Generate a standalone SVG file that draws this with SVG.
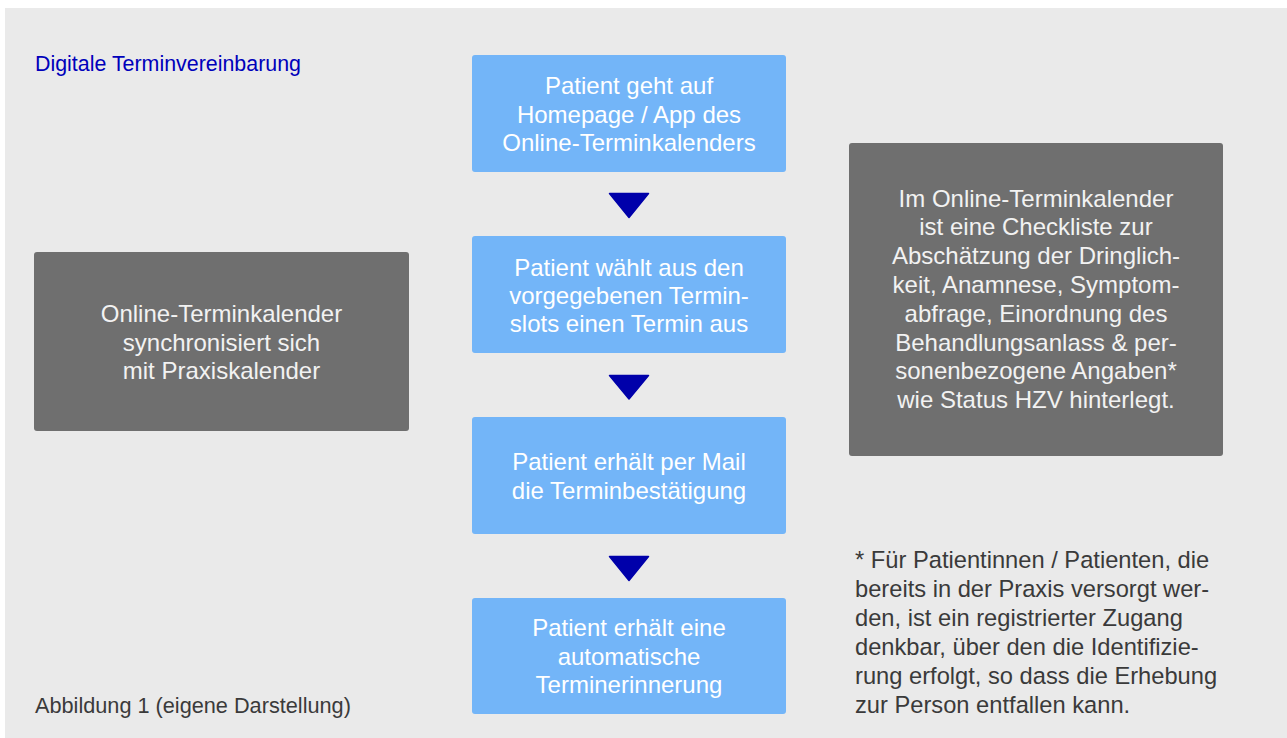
<svg xmlns="http://www.w3.org/2000/svg" width="1287" height="738" viewBox="0 0 1287 738">
<style>
text { font-family: "Liberation Sans", Arial, sans-serif; }
.step { fill: #73B5F8; }
.info { fill: #6F6F6F; }
.wt { fill: #FFFFFF; font-size: 24px; text-anchor: middle; }
.gt { fill: #F2F2F2; font-size: 24px; text-anchor: middle; }
.note { fill: #3A3A3A; font-size: 23.7px; }
.arrow { fill: #0000AA; stroke: #0000AA; stroke-width: 1.5; stroke-linejoin: round; }
</style>
<rect x="0" y="0" width="1287" height="738" fill="#FFFFFF"/>
<rect x="5" y="8" width="1282" height="730" fill="#EAEAEA"/>
<text x="35" y="71" style="font-size:21.4px" fill="#0000BB">Digitale Terminvereinbarung</text>
<g id="step1">
<rect class="step" x="472" y="55" width="314" height="117" rx="3"/>
<text class="wt" x="629" y="94">Patient geht auf</text>
<text class="wt" x="629" y="122.5">Homepage / App des</text>
<text class="wt" x="629" y="151">Online-Terminkalenders</text>
</g>
<g id="step2">
<rect class="step" x="472" y="236" width="314" height="117" rx="3"/>
<text class="wt" x="629" y="275.5">Patient wählt aus den</text>
<text class="wt" x="629" y="303.5">vorgegebenen Termin-</text>
<text class="wt" x="629" y="331.5">slots einen Termin aus</text>
</g>
<g id="step3">
<rect class="step" x="472" y="417" width="314" height="117" rx="3"/>
<text class="wt" x="629" y="470">Patient erhält per Mail</text>
<text class="wt" x="629" y="499">die Terminbestätigung</text>
</g>
<g id="step4">
<rect class="step" x="472" y="598" width="314" height="116" rx="3"/>
<text class="wt" x="629" y="635.5">Patient erhält eine</text>
<text class="wt" x="629" y="664.5">automatische</text>
<text class="wt" x="629" y="693">Terminerinnerung</text>
</g>
<g id="sync">
<rect class="info" x="34" y="252" width="375" height="179" rx="3"/>
<text class="gt" x="221.5" y="322">Online-Terminkalender</text>
<text class="gt" x="221.5" y="350.5">synchronisiert sich</text>
<text class="gt" x="221.5" y="379">mit Praxiskalender</text>
</g>
<g id="checklist">
<rect class="info" x="849" y="143" width="374" height="313" rx="3"/>
<text class="gt" x="1036" y="206.5">Im Online-Terminkalender</text>
<text class="gt" x="1036" y="235.3">ist eine Checkliste zur</text>
<text class="gt" x="1036" y="264.1">Abschätzung der Dringlich-</text>
<text class="gt" x="1036" y="292.9">keit, Anamnese, Symptom-</text>
<text class="gt" x="1036" y="321.7">abfrage, Einordnung des</text>
<text class="gt" x="1036" y="350.5">Behandlungsanlass &amp; per-</text>
<text class="gt" x="1036" y="379.3">sonenbezogene Angaben*</text>
<text class="gt" x="1036" y="408.1">wie Status HZV hinterlegt.</text>
</g>
<g id="footnote">
<text class="note" x="855" y="568.3">* Für Patientinnen / Patienten, die</text>
<text class="note" x="855" y="597.2">bereits in der Praxis versorgt wer-</text>
<text class="note" x="855" y="626.1">den, ist ein registrierter Zugang</text>
<text class="note" x="855" y="655">denkbar, über den die Identifizie-</text>
<text class="note" x="855" y="683.9">rung erfolgt, so dass die Erhebung</text>
<text class="note" x="855" y="712.8">zur Person entfallen kann.</text>
</g>
<text x="35" y="713" style="font-size:21.7px" fill="#3A3A3A">Abbildung 1 (eigene Darstellung)</text>
<g id="connectors">
<polygon class="arrow" points="609.5,193.5 648.5,193.5 629,217.5"/>
<polygon class="arrow" points="609.5,375.5 648.5,375.5 629,399"/>
<polygon class="arrow" points="609.5,556.5 648.5,556.5 629,580.5"/>
</g>
</svg>
